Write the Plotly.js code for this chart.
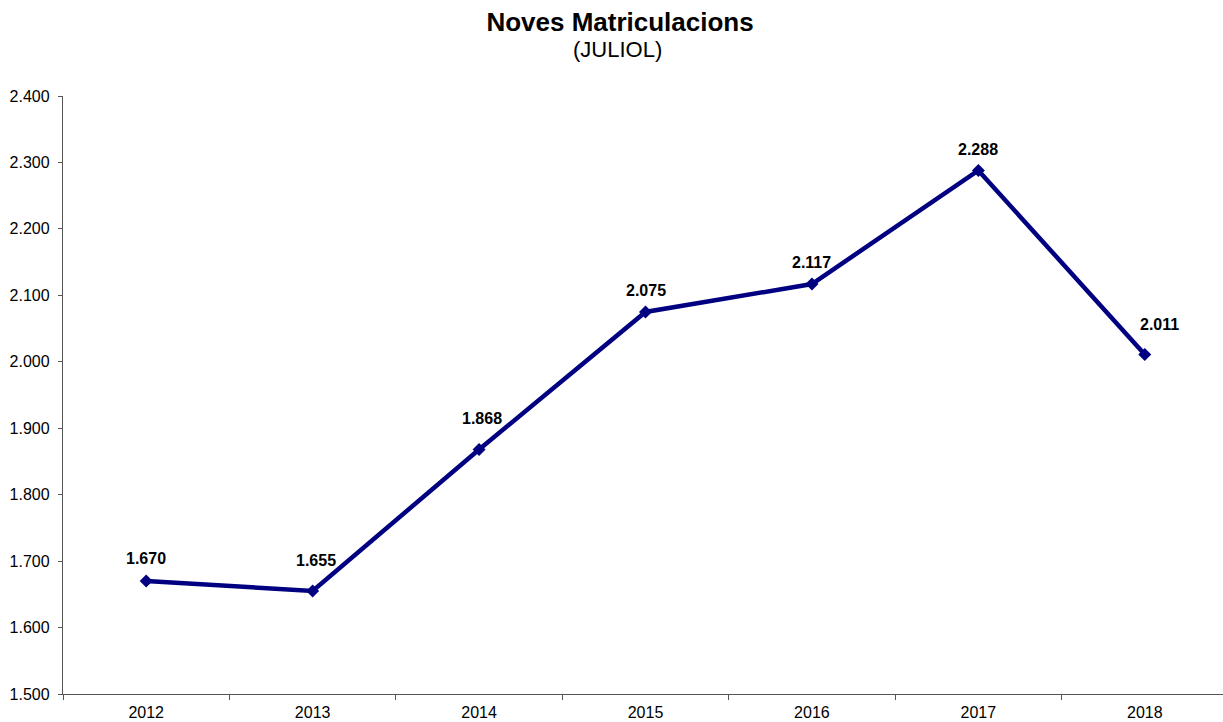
<!DOCTYPE html>
<html>
<head>
<meta charset="utf-8">
<script src="https://cdn.plot.ly/plotly-3.0.1.min.js"></script>
<style>html,body{margin:0;padding:0;background:#fff;}#chart{width:1223px;height:722px;}</style>
</head>
<body>
<div id="chart"></div>
<script>
var years = ["2012", "2013", "2014", "2015", "2016", "2017", "2018"];
var registrations = [1670, 1655, 1868, 2075, 2117, 2288, 2011];
var yTicks = [1500, 1600, 1700, 1800, 1900, 2000, 2100, 2200, 2300, 2400];

function fmt(v) { return String(v).replace(/\B(?=(\d{3})+(?!\d))/g, "."); }

var FONT = "Liberation Sans, Arial, sans-serif";
// label placement (style, not data): pixel shifts of each data label
var labelDX = [0, 3, 3, 0, 0, 0, 15];
var labelDY = [23, 31, 31, 21, 22, 21, 30];

var trace = {
  x: years,
  y: registrations,
  type: "scatter",
  mode: "lines+markers",
  line: {color: "#000080", width: 4.5},
  marker: {symbol: "diamond", size: 10, color: "#000080"},
  hoverinfo: "skip"
};

var annotations = years.map(function (yr, i) {
  return {
    x: i, y: registrations[i], xref: "x", yref: "y",
    text: "<b>" + fmt(registrations[i]) + "</b>",
    showarrow: false, xshift: labelDX[i], yshift: labelDY[i],
    font: {family: FONT, size: 16, color: "#000"}
  };
});
annotations.push({
  xref: "paper", yref: "paper", x: 0.478, y: 1, yshift: 47, xanchor: "center", yanchor: "middle",
  text: "(JULIOL)", showarrow: false,
  font: {family: FONT, size: 22, color: "#000"}
});

var layout = {
  width: 1223, height: 722,
  margin: {l: 63, r: 0, t: 96, b: 28},
  paper_bgcolor: "#fff", plot_bgcolor: "#fff",
  showlegend: false,
  title: {
    text: "<b>Noves Matriculacions</b>",
    x: 0.507, xanchor: "center", y: 0.9695, yanchor: "middle",
    font: {family: FONT, size: 26, color: "#000"}
  },
  xaxis: {
    type: "category",
    range: [-0.5, 6.47],
    showgrid: false, zeroline: false,
    showline: true, linecolor: "#555", linewidth: 1.2,
    ticks: "outside", tickson: "boundaries", ticklen: 5, tickcolor: "#555",
    ticklabelstandoff: 4,
    tickfont: {family: FONT, size: 16, color: "#000"}
  },
  yaxis: {
    range: [1500, 2400],
    tickvals: yTicks,
    ticktext: yTicks.map(fmt),
    showgrid: false, zeroline: false,
    showline: true, linecolor: "#555", linewidth: 1.2,
    ticks: "outside", ticklen: 4, tickcolor: "#555",
    ticklabelstandoff: 5,
    tickfont: {family: FONT, size: 16, color: "#000"}
  },
  annotations: annotations
};

Plotly.newPlot("chart", [trace], layout, {displayModeBar: false, staticPlot: true});
</script>
</body>
</html>
